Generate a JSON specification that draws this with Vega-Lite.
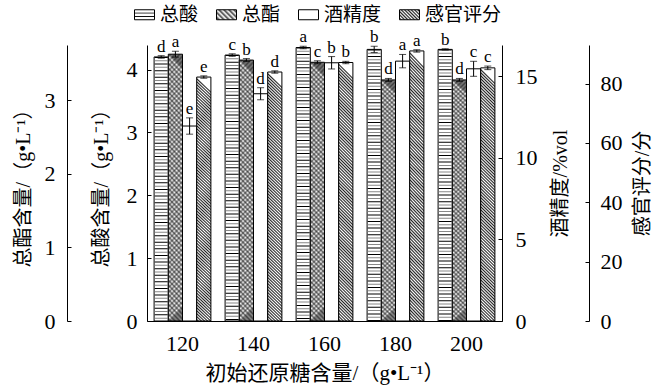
{
"$schema": "https://vega.github.io/schema/vega-lite/v6.json",
"width": 355, "height": 276,
"autosize": {"type": "none"},
"padding": {"left": 147, "top": 45, "right": 158, "bottom": 70},
"background": "white",
"data": {"values": [
{"g":"120","s":"总酸","v":4.20,"lo":4.18,"hi":4.22,"lab":"d"},
{"g":"120","s":"总酯","v":3.63,"lo":3.59,"hi":3.67,"lab":"a"},
{"g":"120","s":"酒精度","v":11.96,"lo":11.46,"hi":12.46,"lab":"e"},
{"g":"120","s":"感官评分","v":82.2,"lo":81.8,"hi":82.6,"lab":"e"},
{"g":"140","s":"总酸","v":4.23,"lo":4.21,"hi":4.25,"lab":"c"},
{"g":"140","s":"总酯","v":3.55,"lo":3.53,"hi":3.57,"lab":"b"},
{"g":"140","s":"酒精度","v":13.94,"lo":13.57,"hi":14.31,"lab":"d"},
{"g":"140","s":"感官评分","v":83.9,"lo":83.5,"hi":84.3,"lab":"d"},
{"g":"160","s":"总酸","v":4.35,"lo":4.33,"hi":4.37,"lab":"a"},
{"g":"160","s":"总酯","v":3.52,"lo":3.50,"hi":3.54,"lab":"c"},
{"g":"160","s":"酒精度","v":15.84,"lo":15.46,"hi":16.22,"lab":"b"},
{"g":"160","s":"感官评分","v":87.1,"lo":86.7,"hi":87.5,"lab":"b"},
{"g":"180","s":"总酸","v":4.32,"lo":4.27,"hi":4.37,"lab":"b"},
{"g":"180","s":"总酯","v":3.28,"lo":3.26,"hi":3.30,"lab":"d"},
{"g":"180","s":"酒精度","v":15.94,"lo":15.53,"hi":16.35,"lab":"a"},
{"g":"180","s":"感官评分","v":91.0,"lo":90.6,"hi":91.4,"lab":"a"},
{"g":"200","s":"总酸","v":4.32,"lo":4.31,"hi":4.33,"lab":"b"},
{"g":"200","s":"总酯","v":3.28,"lo":3.26,"hi":3.30,"lab":"d"},
{"g":"200","s":"酒精度","v":15.47,"lo":15.01,"hi":15.93,"lab":"c"},
{"g":"200","s":"感官评分","v":85.3,"lo":84.7,"hi":85.9,"lab":"c"}
]},
"encoding": {
"x": {"field": "g", "type": "nominal", "scale": {"paddingInner": 0.2, "paddingOuter": 0.1},
 "axis": {"title": "初始还原糖含量/（g•L⁻¹）", "titleFontSize": 21, "labelAngle": 0, "ticks": false, "tickSize": 0, "labelPadding": 12, "titlePadding": 8}},
"xOffset": {"field": "s", "type": "nominal", "scale": {"domain": ["总酸","总酯","酒精度","感官评分"], "paddingInner": 0, "paddingOuter": 0}}
},
"layer": [
{
"transform": [{"filter": "datum.s === '总酸'"}],
"layer": [
{"mark": {"type": "bar", "fill": "white", "stroke": "black", "strokeWidth": 1},
 "encoding": {
  "y": {"field": "v", "type": "quantitative", "scale": {"domain": [0, 4.39], "nice": false},
   "axis": {"orient": "left", "values": [0,1,2,3,4], "format": "d", "title": "总酸含量/（g•L⁻¹）", "tickSize": -4, "labelPadding": 14, "titlePadding": 15}}
 }},
{"mark": {"type": "rule", "stroke": "black", "strokeWidth": 13, "strokeDash": [1, 5.6]},
 "encoding": {"y": {"field": "v", "type": "quantitative", "scale": {"domain": [0, 4.39], "nice": false}}, "y2": {"datum": 0}}},
{"mark": {"type": "rule", "stroke": "#888", "strokeWidth": 13, "strokeDash": [1, 5.6], "strokeDashOffset": 3.3},
 "encoding": {"y": {"field": "v", "type": "quantitative", "scale": {"domain": [0, 4.39], "nice": false}}, "y2": {"datum": 0}}},
{"mark": {"type": "rule", "stroke": "black", "strokeWidth": 1},
 "encoding": {"y": {"field": "lo", "type": "quantitative", "scale": {"domain": [0, 4.39], "nice": false}}, "y2": {"field": "hi"}}},
{"mark": {"type": "tick", "color": "black", "thickness": 1, "size": 7},
 "encoding": {"y": {"field": "lo", "type": "quantitative", "scale": {"domain": [0, 4.39], "nice": false}}}},
{"mark": {"type": "tick", "color": "black", "thickness": 1, "size": 7},
 "encoding": {"y": {"field": "hi", "type": "quantitative", "scale": {"domain": [0, 4.39], "nice": false}}}},
{"mark": {"type": "text", "baseline": "alphabetic", "dy": -4, "font": "Liberation Serif", "fontSize": 17, "color": "black"},
 "encoding": {"y": {"field": "hi", "type": "quantitative", "scale": {"domain": [0, 4.39], "nice": false}}, "text": {"field": "lab"}}}
]
},
{
"transform": [{"filter": "datum.s === '总酯'"}],
"layer": [
{"mark": {"type": "bar", "fill": {"gradient": "linear", "x1": 0, "y1": 1, "x2": 0.056, "y2": 0, "stops": [
{"offset":0,"color":"#fff"},{"offset":0.009,"color":"#777"},{"offset":0.018,"color":"#fff"},{"offset":0.027,"color":"#777"},{"offset":0.036,"color":"#fff"},{"offset":0.045,"color":"#777"},{"offset":0.054,"color":"#fff"},{"offset":0.063,"color":"#777"},{"offset":0.072,"color":"#fff"},{"offset":0.081,"color":"#777"},
{"offset":0.09,"color":"#fff"},{"offset":0.099,"color":"#777"},{"offset":0.108,"color":"#fff"},{"offset":0.117,"color":"#777"},{"offset":0.126,"color":"#fff"},{"offset":0.135,"color":"#777"},{"offset":0.144,"color":"#fff"},{"offset":0.153,"color":"#777"},{"offset":0.162,"color":"#fff"},{"offset":0.171,"color":"#777"},
{"offset":0.18,"color":"#fff"},{"offset":0.189,"color":"#777"},{"offset":0.198,"color":"#fff"},{"offset":0.207,"color":"#777"},{"offset":0.216,"color":"#fff"},{"offset":0.225,"color":"#777"},{"offset":0.234,"color":"#fff"},{"offset":0.243,"color":"#777"},{"offset":0.252,"color":"#fff"},{"offset":0.261,"color":"#777"},
{"offset":0.27,"color":"#fff"},{"offset":0.279,"color":"#777"},{"offset":0.288,"color":"#fff"},{"offset":0.297,"color":"#777"},{"offset":0.306,"color":"#fff"},{"offset":0.315,"color":"#777"},{"offset":0.324,"color":"#fff"},{"offset":0.333,"color":"#777"},{"offset":0.342,"color":"#fff"},{"offset":0.351,"color":"#777"},
{"offset":0.36,"color":"#fff"},{"offset":0.369,"color":"#777"},{"offset":0.378,"color":"#fff"},{"offset":0.387,"color":"#777"},{"offset":0.396,"color":"#fff"},{"offset":0.405,"color":"#777"},{"offset":0.414,"color":"#fff"},{"offset":0.423,"color":"#777"},{"offset":0.432,"color":"#fff"},{"offset":0.441,"color":"#777"},
{"offset":0.45,"color":"#fff"},{"offset":0.459,"color":"#777"},{"offset":0.468,"color":"#fff"},{"offset":0.477,"color":"#777"},{"offset":0.486,"color":"#fff"},{"offset":0.495,"color":"#777"},{"offset":0.504,"color":"#fff"},{"offset":0.513,"color":"#777"},{"offset":0.522,"color":"#fff"},{"offset":0.531,"color":"#777"},
{"offset":0.54,"color":"#fff"},{"offset":0.549,"color":"#777"},{"offset":0.558,"color":"#fff"},{"offset":0.567,"color":"#777"},{"offset":0.576,"color":"#fff"},{"offset":0.585,"color":"#777"},{"offset":0.594,"color":"#fff"},{"offset":0.603,"color":"#777"},{"offset":0.612,"color":"#fff"},{"offset":0.621,"color":"#777"},
{"offset":0.63,"color":"#fff"},{"offset":0.639,"color":"#777"},{"offset":0.648,"color":"#fff"},{"offset":0.657,"color":"#777"},{"offset":0.666,"color":"#fff"},{"offset":0.675,"color":"#777"},{"offset":0.684,"color":"#fff"},{"offset":0.693,"color":"#777"},{"offset":0.702,"color":"#fff"},{"offset":0.711,"color":"#777"},
{"offset":0.72,"color":"#fff"},{"offset":0.729,"color":"#777"},{"offset":0.738,"color":"#fff"},{"offset":0.747,"color":"#777"},{"offset":0.756,"color":"#fff"},{"offset":0.765,"color":"#777"},{"offset":0.774,"color":"#fff"},{"offset":0.783,"color":"#777"},{"offset":0.792,"color":"#fff"},{"offset":0.801,"color":"#777"},
{"offset":0.81,"color":"#fff"},{"offset":0.819,"color":"#777"},{"offset":0.828,"color":"#fff"},{"offset":0.837,"color":"#777"},{"offset":0.846,"color":"#fff"},{"offset":0.855,"color":"#777"},{"offset":0.864,"color":"#fff"},{"offset":0.873,"color":"#777"},{"offset":0.882,"color":"#fff"},{"offset":0.891,"color":"#777"},
{"offset":0.9,"color":"#fff"},{"offset":0.909,"color":"#777"},{"offset":0.918,"color":"#fff"},{"offset":0.927,"color":"#777"},{"offset":0.936,"color":"#fff"},{"offset":0.945,"color":"#777"},{"offset":0.954,"color":"#fff"},{"offset":0.963,"color":"#777"},{"offset":0.972,"color":"#fff"},{"offset":0.981,"color":"#777"},
{"offset":0.99,"color":"#fff"},{"offset":0.999,"color":"#777"}]}},
 "encoding": {"y": {"field": "v", "type": "quantitative", "scale": {"domain": [0, 3.755], "nice": false},
   "axis": {"orient": "left", "offset": 80, "values": [0,1,2,3], "format": "d", "title": "总酯含量/（g•L⁻¹）", "tickSize": -4, "labelPadding": 16, "titlePadding": 11}}}},
{"mark": {"type": "bar", "stroke": "black", "strokeWidth": 1, "fill": {"gradient": "linear", "x1": 0, "y1": 0, "x2": 0.056, "y2": 1, "stops": [
{"offset":0,"color":"rgba(0,0,0,0)"},{"offset":0.009,"color":"rgba(0,0,0,0.45)"},{"offset":0.018,"color":"rgba(0,0,0,0)"},{"offset":0.027,"color":"rgba(0,0,0,0.45)"},{"offset":0.036,"color":"rgba(0,0,0,0)"},{"offset":0.045,"color":"rgba(0,0,0,0.45)"},{"offset":0.054,"color":"rgba(0,0,0,0)"},{"offset":0.063,"color":"rgba(0,0,0,0.45)"},{"offset":0.072,"color":"rgba(0,0,0,0)"},{"offset":0.081,"color":"rgba(0,0,0,0.45)"},
{"offset":0.09,"color":"rgba(0,0,0,0)"},{"offset":0.099,"color":"rgba(0,0,0,0.45)"},{"offset":0.108,"color":"rgba(0,0,0,0)"},{"offset":0.117,"color":"rgba(0,0,0,0.45)"},{"offset":0.126,"color":"rgba(0,0,0,0)"},{"offset":0.135,"color":"rgba(0,0,0,0.45)"},{"offset":0.144,"color":"rgba(0,0,0,0)"},{"offset":0.153,"color":"rgba(0,0,0,0.45)"},{"offset":0.162,"color":"rgba(0,0,0,0)"},{"offset":0.171,"color":"rgba(0,0,0,0.45)"},
{"offset":0.18,"color":"rgba(0,0,0,0)"},{"offset":0.189,"color":"rgba(0,0,0,0.45)"},{"offset":0.198,"color":"rgba(0,0,0,0)"},{"offset":0.207,"color":"rgba(0,0,0,0.45)"},{"offset":0.216,"color":"rgba(0,0,0,0)"},{"offset":0.225,"color":"rgba(0,0,0,0.45)"},{"offset":0.234,"color":"rgba(0,0,0,0)"},{"offset":0.243,"color":"rgba(0,0,0,0.45)"},{"offset":0.252,"color":"rgba(0,0,0,0)"},{"offset":0.261,"color":"rgba(0,0,0,0.45)"},
{"offset":0.27,"color":"rgba(0,0,0,0)"},{"offset":0.279,"color":"rgba(0,0,0,0.45)"},{"offset":0.288,"color":"rgba(0,0,0,0)"},{"offset":0.297,"color":"rgba(0,0,0,0.45)"},{"offset":0.306,"color":"rgba(0,0,0,0)"},{"offset":0.315,"color":"rgba(0,0,0,0.45)"},{"offset":0.324,"color":"rgba(0,0,0,0)"},{"offset":0.333,"color":"rgba(0,0,0,0.45)"},{"offset":0.342,"color":"rgba(0,0,0,0)"},{"offset":0.351,"color":"rgba(0,0,0,0.45)"},
{"offset":0.36,"color":"rgba(0,0,0,0)"},{"offset":0.369,"color":"rgba(0,0,0,0.45)"},{"offset":0.378,"color":"rgba(0,0,0,0)"},{"offset":0.387,"color":"rgba(0,0,0,0.45)"},{"offset":0.396,"color":"rgba(0,0,0,0)"},{"offset":0.405,"color":"rgba(0,0,0,0.45)"},{"offset":0.414,"color":"rgba(0,0,0,0)"},{"offset":0.423,"color":"rgba(0,0,0,0.45)"},{"offset":0.432,"color":"rgba(0,0,0,0)"},{"offset":0.441,"color":"rgba(0,0,0,0.45)"},
{"offset":0.45,"color":"rgba(0,0,0,0)"},{"offset":0.459,"color":"rgba(0,0,0,0.45)"},{"offset":0.468,"color":"rgba(0,0,0,0)"},{"offset":0.477,"color":"rgba(0,0,0,0.45)"},{"offset":0.486,"color":"rgba(0,0,0,0)"},{"offset":0.495,"color":"rgba(0,0,0,0.45)"},{"offset":0.504,"color":"rgba(0,0,0,0)"},{"offset":0.513,"color":"rgba(0,0,0,0.45)"},{"offset":0.522,"color":"rgba(0,0,0,0)"},{"offset":0.531,"color":"rgba(0,0,0,0.45)"},
{"offset":0.54,"color":"rgba(0,0,0,0)"},{"offset":0.549,"color":"rgba(0,0,0,0.45)"},{"offset":0.558,"color":"rgba(0,0,0,0)"},{"offset":0.567,"color":"rgba(0,0,0,0.45)"},{"offset":0.576,"color":"rgba(0,0,0,0)"},{"offset":0.585,"color":"rgba(0,0,0,0.45)"},{"offset":0.594,"color":"rgba(0,0,0,0)"},{"offset":0.603,"color":"rgba(0,0,0,0.45)"},{"offset":0.612,"color":"rgba(0,0,0,0)"},{"offset":0.621,"color":"rgba(0,0,0,0.45)"},
{"offset":0.63,"color":"rgba(0,0,0,0)"},{"offset":0.639,"color":"rgba(0,0,0,0.45)"},{"offset":0.648,"color":"rgba(0,0,0,0)"},{"offset":0.657,"color":"rgba(0,0,0,0.45)"},{"offset":0.666,"color":"rgba(0,0,0,0)"},{"offset":0.675,"color":"rgba(0,0,0,0.45)"},{"offset":0.684,"color":"rgba(0,0,0,0)"},{"offset":0.693,"color":"rgba(0,0,0,0.45)"},{"offset":0.702,"color":"rgba(0,0,0,0)"},{"offset":0.711,"color":"rgba(0,0,0,0.45)"},
{"offset":0.72,"color":"rgba(0,0,0,0)"},{"offset":0.729,"color":"rgba(0,0,0,0.45)"},{"offset":0.738,"color":"rgba(0,0,0,0)"},{"offset":0.747,"color":"rgba(0,0,0,0.45)"},{"offset":0.756,"color":"rgba(0,0,0,0)"},{"offset":0.765,"color":"rgba(0,0,0,0.45)"},{"offset":0.774,"color":"rgba(0,0,0,0)"},{"offset":0.783,"color":"rgba(0,0,0,0.45)"},{"offset":0.792,"color":"rgba(0,0,0,0)"},{"offset":0.801,"color":"rgba(0,0,0,0.45)"},
{"offset":0.81,"color":"rgba(0,0,0,0)"},{"offset":0.819,"color":"rgba(0,0,0,0.45)"},{"offset":0.828,"color":"rgba(0,0,0,0)"},{"offset":0.837,"color":"rgba(0,0,0,0.45)"},{"offset":0.846,"color":"rgba(0,0,0,0)"},{"offset":0.855,"color":"rgba(0,0,0,0.45)"},{"offset":0.864,"color":"rgba(0,0,0,0)"},{"offset":0.873,"color":"rgba(0,0,0,0.45)"},{"offset":0.882,"color":"rgba(0,0,0,0)"},{"offset":0.891,"color":"rgba(0,0,0,0.45)"},
{"offset":0.9,"color":"rgba(0,0,0,0)"},{"offset":0.909,"color":"rgba(0,0,0,0.45)"},{"offset":0.918,"color":"rgba(0,0,0,0)"},{"offset":0.927,"color":"rgba(0,0,0,0.45)"},{"offset":0.936,"color":"rgba(0,0,0,0)"},{"offset":0.945,"color":"rgba(0,0,0,0.45)"},{"offset":0.954,"color":"rgba(0,0,0,0)"},{"offset":0.963,"color":"rgba(0,0,0,0.45)"},{"offset":0.972,"color":"rgba(0,0,0,0)"},{"offset":0.981,"color":"rgba(0,0,0,0.45)"},
{"offset":0.99,"color":"rgba(0,0,0,0)"},{"offset":0.999,"color":"rgba(0,0,0,0.45)"}]}},
 "encoding": {"y": {"field": "v", "type": "quantitative", "scale": {"domain": [0, 3.755], "nice": false}}}},
{"mark": {"type": "rule", "stroke": "black", "strokeWidth": 1},
 "encoding": {"y": {"field": "lo", "type": "quantitative", "scale": {"domain": [0, 3.755], "nice": false}}, "y2": {"field": "hi"}}},
{"mark": {"type": "tick", "color": "black", "thickness": 1, "size": 7},
 "encoding": {"y": {"field": "lo", "type": "quantitative", "scale": {"domain": [0, 3.755], "nice": false}}}},
{"mark": {"type": "tick", "color": "black", "thickness": 1, "size": 7},
 "encoding": {"y": {"field": "hi", "type": "quantitative", "scale": {"domain": [0, 3.755], "nice": false}}}},
{"mark": {"type": "text", "baseline": "alphabetic", "dy": -4, "font": "Liberation Serif", "fontSize": 17, "color": "black"},
 "encoding": {"y": {"field": "hi", "type": "quantitative", "scale": {"domain": [0, 3.755], "nice": false}}, "text": {"field": "lab"}}}
]
},
{
"transform": [{"filter": "datum.s === '酒精度'"}],
"layer": [
{"mark": {"type": "bar", "fill": "white", "stroke": "black", "strokeWidth": 1},
 "encoding": {"y": {"field": "v", "type": "quantitative", "scale": {"domain": [0, 16.93], "nice": false},
   "axis": {"orient": "right", "values": [0,5,10,15], "title": "酒精度/%vol", "tickSize": -4, "labelPadding": 17, "titlePadding": 13, "titleAngle": 270, "titleBaseline": "top"}}}},
{"mark": {"type": "rule", "stroke": "black", "strokeWidth": 1},
 "encoding": {"y": {"field": "lo", "type": "quantitative", "scale": {"domain": [0, 16.93], "nice": false}}, "y2": {"field": "hi"}}},
{"mark": {"type": "tick", "color": "black", "thickness": 1, "size": 7},
 "encoding": {"y": {"field": "lo", "type": "quantitative", "scale": {"domain": [0, 16.93], "nice": false}}}},
{"mark": {"type": "tick", "color": "black", "thickness": 1, "size": 7},
 "encoding": {"y": {"field": "hi", "type": "quantitative", "scale": {"domain": [0, 16.93], "nice": false}}}},
{"mark": {"type": "text", "baseline": "alphabetic", "dy": -4, "font": "Liberation Serif", "fontSize": 17, "color": "black"},
 "encoding": {"y": {"field": "hi", "type": "quantitative", "scale": {"domain": [0, 16.93], "nice": false}}, "text": {"field": "lab"}}}
]
},
{
"transform": [{"filter": "datum.s === '感官评分'"}],
"layer": [
{"mark": {"type": "bar", "stroke": "black", "strokeWidth": 1, "fill": {"gradient": "linear", "x1": 0, "y1": 1, "x2": 0.055, "y2": 0, "stops": [
{"offset":0,"color":"#fff"},{"offset":0.006,"color":"#222"},{"offset":0.012,"color":"#fff"},{"offset":0.018,"color":"#222"},{"offset":0.024,"color":"#fff"},{"offset":0.03,"color":"#222"},{"offset":0.036,"color":"#fff"},{"offset":0.042,"color":"#222"},{"offset":0.048,"color":"#fff"},{"offset":0.054,"color":"#222"},
{"offset":0.06,"color":"#fff"},{"offset":0.066,"color":"#222"},{"offset":0.072,"color":"#fff"},{"offset":0.078,"color":"#222"},{"offset":0.084,"color":"#fff"},{"offset":0.09,"color":"#222"},{"offset":0.096,"color":"#fff"},{"offset":0.102,"color":"#222"},{"offset":0.108,"color":"#fff"},{"offset":0.114,"color":"#222"},
{"offset":0.12,"color":"#fff"},{"offset":0.126,"color":"#222"},{"offset":0.132,"color":"#fff"},{"offset":0.138,"color":"#222"},{"offset":0.144,"color":"#fff"},{"offset":0.15,"color":"#222"},{"offset":0.156,"color":"#fff"},{"offset":0.162,"color":"#222"},{"offset":0.168,"color":"#fff"},{"offset":0.174,"color":"#222"},
{"offset":0.18,"color":"#fff"},{"offset":0.186,"color":"#222"},{"offset":0.192,"color":"#fff"},{"offset":0.198,"color":"#222"},{"offset":0.204,"color":"#fff"},{"offset":0.21,"color":"#222"},{"offset":0.216,"color":"#fff"},{"offset":0.222,"color":"#222"},{"offset":0.228,"color":"#fff"},{"offset":0.234,"color":"#222"},
{"offset":0.24,"color":"#fff"},{"offset":0.246,"color":"#222"},{"offset":0.252,"color":"#fff"},{"offset":0.258,"color":"#222"},{"offset":0.264,"color":"#fff"},{"offset":0.27,"color":"#222"},{"offset":0.276,"color":"#fff"},{"offset":0.282,"color":"#222"},{"offset":0.288,"color":"#fff"},{"offset":0.294,"color":"#222"},
{"offset":0.3,"color":"#fff"},{"offset":0.306,"color":"#222"},{"offset":0.312,"color":"#fff"},{"offset":0.318,"color":"#222"},{"offset":0.324,"color":"#fff"},{"offset":0.33,"color":"#222"},{"offset":0.336,"color":"#fff"},{"offset":0.342,"color":"#222"},{"offset":0.348,"color":"#fff"},{"offset":0.354,"color":"#222"},
{"offset":0.36,"color":"#fff"},{"offset":0.366,"color":"#222"},{"offset":0.372,"color":"#fff"},{"offset":0.378,"color":"#222"},{"offset":0.384,"color":"#fff"},{"offset":0.39,"color":"#222"},{"offset":0.396,"color":"#fff"},{"offset":0.402,"color":"#222"},{"offset":0.408,"color":"#fff"},{"offset":0.414,"color":"#222"},
{"offset":0.42,"color":"#fff"},{"offset":0.426,"color":"#222"},{"offset":0.432,"color":"#fff"},{"offset":0.438,"color":"#222"},{"offset":0.444,"color":"#fff"},{"offset":0.45,"color":"#222"},{"offset":0.456,"color":"#fff"},{"offset":0.462,"color":"#222"},{"offset":0.468,"color":"#fff"},{"offset":0.474,"color":"#222"},
{"offset":0.48,"color":"#fff"},{"offset":0.486,"color":"#222"},{"offset":0.492,"color":"#fff"},{"offset":0.498,"color":"#222"},{"offset":0.504,"color":"#fff"},{"offset":0.51,"color":"#222"},{"offset":0.516,"color":"#fff"},{"offset":0.522,"color":"#222"},{"offset":0.528,"color":"#fff"},{"offset":0.534,"color":"#222"},
{"offset":0.54,"color":"#fff"},{"offset":0.546,"color":"#222"},{"offset":0.552,"color":"#fff"},{"offset":0.558,"color":"#222"},{"offset":0.564,"color":"#fff"},{"offset":0.57,"color":"#222"},{"offset":0.576,"color":"#fff"},{"offset":0.582,"color":"#222"},{"offset":0.588,"color":"#fff"},{"offset":0.594,"color":"#222"},
{"offset":0.6,"color":"#fff"},{"offset":0.606,"color":"#222"},{"offset":0.612,"color":"#fff"},{"offset":0.618,"color":"#222"},{"offset":0.624,"color":"#fff"},{"offset":0.63,"color":"#222"},{"offset":0.636,"color":"#fff"},{"offset":0.642,"color":"#222"},{"offset":0.648,"color":"#fff"},{"offset":0.654,"color":"#222"},
{"offset":0.66,"color":"#fff"},{"offset":0.666,"color":"#222"},{"offset":0.672,"color":"#fff"},{"offset":0.678,"color":"#222"},{"offset":0.684,"color":"#fff"},{"offset":0.69,"color":"#222"},{"offset":0.696,"color":"#fff"},{"offset":0.702,"color":"#222"},{"offset":0.708,"color":"#fff"},{"offset":0.714,"color":"#222"},
{"offset":0.72,"color":"#fff"},{"offset":0.726,"color":"#222"},{"offset":0.732,"color":"#fff"},{"offset":0.738,"color":"#222"},{"offset":0.744,"color":"#fff"},{"offset":0.75,"color":"#222"},{"offset":0.756,"color":"#fff"},{"offset":0.762,"color":"#222"},{"offset":0.768,"color":"#fff"},{"offset":0.774,"color":"#222"},
{"offset":0.78,"color":"#fff"},{"offset":0.786,"color":"#222"},{"offset":0.792,"color":"#fff"},{"offset":0.798,"color":"#222"},{"offset":0.804,"color":"#fff"},{"offset":0.81,"color":"#222"},{"offset":0.816,"color":"#fff"},{"offset":0.822,"color":"#222"},{"offset":0.828,"color":"#fff"},{"offset":0.834,"color":"#222"},
{"offset":0.84,"color":"#fff"},{"offset":0.846,"color":"#222"},{"offset":0.852,"color":"#fff"},{"offset":0.858,"color":"#222"},{"offset":0.864,"color":"#fff"},{"offset":0.87,"color":"#222"},{"offset":0.876,"color":"#fff"},{"offset":0.882,"color":"#222"},{"offset":0.888,"color":"#fff"},{"offset":0.894,"color":"#222"},
{"offset":0.9,"color":"#fff"},{"offset":0.906,"color":"#222"},{"offset":0.912,"color":"#fff"},{"offset":0.918,"color":"#222"},{"offset":0.924,"color":"#fff"},{"offset":0.93,"color":"#222"},{"offset":0.936,"color":"#fff"},{"offset":0.942,"color":"#222"},{"offset":0.948,"color":"#fff"},{"offset":0.954,"color":"#222"},
{"offset":0.96,"color":"#fff"},{"offset":0.966,"color":"#222"},{"offset":0.972,"color":"#fff"},{"offset":0.978,"color":"#222"},{"offset":0.984,"color":"#fff"},{"offset":0.99,"color":"#222"},{"offset":0.996,"color":"#fff"}]}},
 "encoding": {"y": {"field": "v", "type": "quantitative", "scale": {"domain": [0, 93], "nice": false},
   "axis": {"orient": "right", "offset": 87, "values": [0,20,40,60,80], "title": "感官评分/分", "tickSize": -4, "labelPadding": 15, "titlePadding": 10, "titleAngle": 270, "titleBaseline": "top"}}}},
{"mark": {"type": "rule", "stroke": "black", "strokeWidth": 1},
 "encoding": {"y": {"field": "lo", "type": "quantitative", "scale": {"domain": [0, 93], "nice": false}}, "y2": {"field": "hi"}}},
{"mark": {"type": "tick", "color": "black", "thickness": 1, "size": 7},
 "encoding": {"y": {"field": "lo", "type": "quantitative", "scale": {"domain": [0, 93], "nice": false}}}},
{"mark": {"type": "tick", "color": "black", "thickness": 1, "size": 7},
 "encoding": {"y": {"field": "hi", "type": "quantitative", "scale": {"domain": [0, 93], "nice": false}}}},
{"mark": {"type": "text", "baseline": "alphabetic", "dy": -4, "font": "Liberation Serif", "fontSize": 17, "color": "black"},
 "encoding": {"y": {"field": "hi", "type": "quantitative", "scale": {"domain": [0, 93], "nice": false}}, "text": {"field": "lab"}}}
]
},
{
"transform": [{"filter": "false"}],
"mark": {"type": "bar", "stroke": "black", "strokeWidth": 1},
"encoding": {
 "fill": {"field": "s", "type": "nominal",
  "scale": {"domain": ["总酸","总酯","酒精度","感官评分"], "range": [
   {"expr": "{gradient: 'linear', x1: 0, y1: 0, x2: 0, y2: 1, stops: [{offset: 0, color: '#fff'}, {offset: 0.25, color: '#fff'}, {offset: 0.33, color: '#000'}, {offset: 0.41, color: '#fff'}, {offset: 0.59, color: '#fff'}, {offset: 0.67, color: '#000'}, {offset: 0.75, color: '#fff'}, {offset: 1, color: '#fff'}]}"},
   {"expr": "{gradient: 'linear', x1: 0, y1: 1, x2: 1.2, y2: 0.4, stops: [{offset: 0, color: '#fff'}, {offset: 0.083, color: '#444'}, {offset: 0.167, color: '#fff'}, {offset: 0.25, color: '#444'}, {offset: 0.333, color: '#fff'}, {offset: 0.417, color: '#444'}, {offset: 0.5, color: '#fff'}, {offset: 0.583, color: '#444'}, {offset: 0.667, color: '#fff'}, {offset: 0.75, color: '#444'}, {offset: 0.833, color: '#fff'}, {offset: 0.917, color: '#444'}, {offset: 1, color: '#fff'}]}"},
   "white",
   {"expr": "{gradient: 'linear', x1: 0, y1: 1, x2: 1.2, y2: 0.4, stops: [{offset: 0, color: '#fff'}, {offset: 0.056, color: '#222'}, {offset: 0.111, color: '#fff'}, {offset: 0.167, color: '#222'}, {offset: 0.222, color: '#fff'}, {offset: 0.278, color: '#222'}, {offset: 0.333, color: '#fff'}, {offset: 0.389, color: '#222'}, {offset: 0.444, color: '#fff'}, {offset: 0.5, color: '#222'}, {offset: 0.556, color: '#fff'}, {offset: 0.611, color: '#222'}, {offset: 0.667, color: '#fff'}, {offset: 0.722, color: '#222'}, {offset: 0.778, color: '#fff'}, {offset: 0.833, color: '#222'}, {offset: 0.889, color: '#fff'}, {offset: 0.944, color: '#222'}, {offset: 1, color: '#fff'}]}"}
  ]},
  "legend": {"orient": "none", "legendX": -13, "legendY": -41, "direction": "horizontal", "title": null,
   "symbolType": "M-1,-0.5H1V0.5H-1Z", "symbolSize": 400, "symbolStrokeColor": "black", "symbolStrokeWidth": 1, "symbolOpacity": 1,
   "labelFont": "Noto Sans CJK SC", "labelFontSize": 19, "labelColor": "black", "labelOffset": 5, "columnPadding": 15, "padding": 0}}
}
}
],
"resolve": {"scale": {"y": "independent"}},
"config": {
"view": {"stroke": null},
"axis": {"grid": false, "domainColor": "black", "tickColor": "black", "labelColor": "black", "titleColor": "black", "domainWidth": 1, "tickWidth": 1,
 "labelFont": "Liberation Serif", "labelFontSize": 22, "titleFont": "Liberation Serif, Noto Sans CJK SC", "titleFontSize": 20, "titleFontWeight": "normal"}
}
}
